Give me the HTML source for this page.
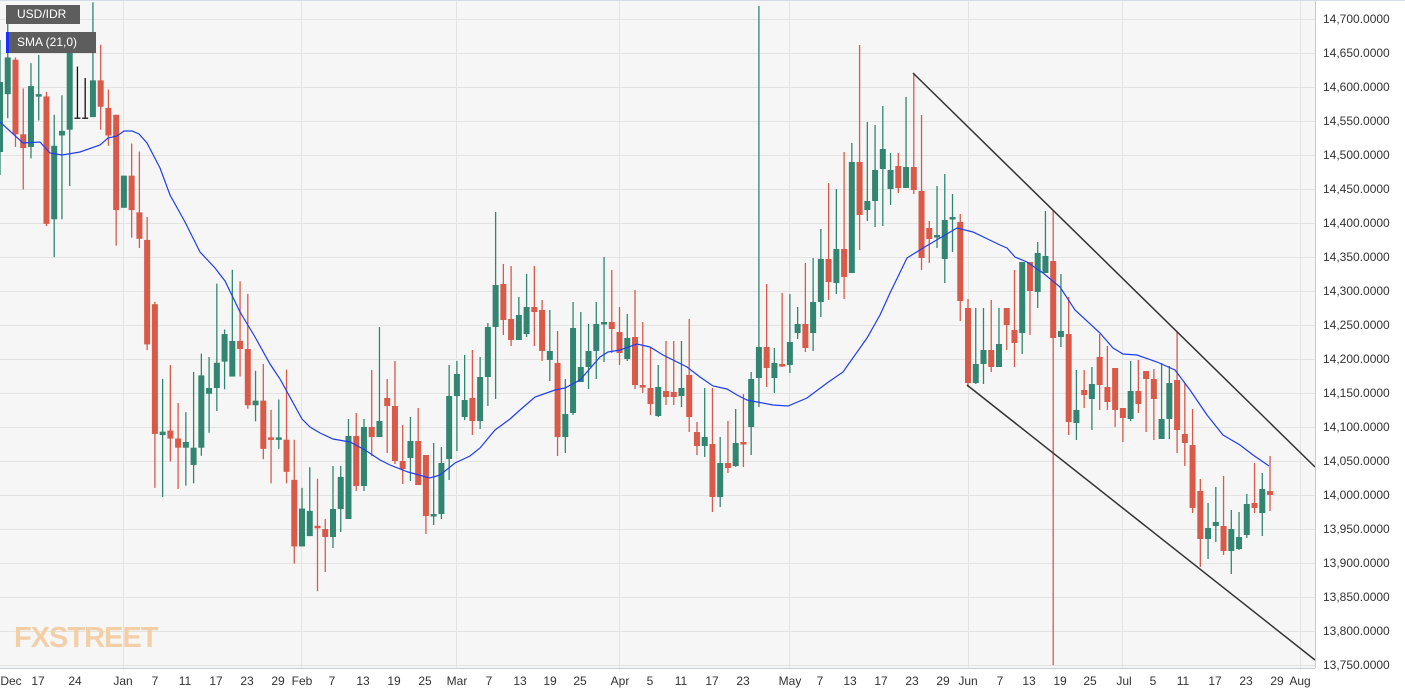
<!DOCTYPE html>
<html><head><meta charset="utf-8"><style>
html,body{margin:0;padding:0;background:#fff;}
#c{position:relative;width:1405px;height:695px;overflow:hidden;font-family:"Liberation Sans",sans-serif;}
svg{position:absolute;left:0;top:0}
.lg{position:absolute;background:#5d5d5d;color:#fff;font-size:12px;line-height:18px;padding-left:11px;}
</style></head><body><div id="c">
<svg id="s" width="1405" height="695" xmlns="http://www.w3.org/2000/svg">
<rect x="0" y="0" width="1315" height="668" fill="#f6f6f6"/>
<g id="grid" stroke="#e3e3e3" stroke-width="1"></g>
<g id="cand"></g>
<polyline id="sma" fill="none" stroke="#1f3df5" stroke-width="1.2"/>
<line x1="913" y1="73" x2="1315" y2="467" stroke="#333" stroke-width="1.5"/>
<line x1="967" y1="385" x2="1315" y2="660" stroke="#333" stroke-width="1.5"/>
<line x1="1315.5" y1="0" x2="1315.5" y2="668" stroke="#c8ccd8"/>
<line x1="0" y1="668.5" x2="1315" y2="668.5" stroke="#c8ccd8"/>
<line x1="0" y1="0.5" x2="1405" y2="0.5" stroke="#d6dbe8"/>
<g font-size="12" fill="#333" font-family="Liberation Sans, sans-serif">
<text x="1323" y="23">14,700.0000</text><text x="1323" y="57">14,650.0000</text><text x="1323" y="91">14,600.0000</text><text x="1323" y="125">14,550.0000</text><text x="1323" y="159">14,500.0000</text><text x="1323" y="193">14,450.0000</text><text x="1323" y="227">14,400.0000</text><text x="1323" y="261">14,350.0000</text><text x="1323" y="295">14,300.0000</text><text x="1323" y="329">14,250.0000</text><text x="1323" y="363">14,200.0000</text><text x="1323" y="397">14,150.0000</text><text x="1323" y="431">14,100.0000</text><text x="1323" y="465">14,050.0000</text><text x="1323" y="499">14,000.0000</text><text x="1323" y="533">13,950.0000</text><text x="1323" y="567">13,900.0000</text><text x="1323" y="601">13,850.0000</text><text x="1323" y="635">13,800.0000</text><text x="1323" y="669">13,750.0000</text>
</g>
<g font-size="12" fill="#333" font-family="Liberation Sans, sans-serif" text-anchor="middle">
<text x="11" y="685">Dec</text><text x="38" y="685">17</text><text x="75" y="685">24</text><text x="123" y="685">Jan</text><text x="155" y="685">7</text><text x="185" y="685">11</text><text x="216" y="685">17</text><text x="247" y="685">23</text><text x="278" y="685">29</text><text x="302" y="685">Feb</text><text x="332" y="685">7</text><text x="363" y="685">13</text><text x="394" y="685">19</text><text x="425" y="685">25</text><text x="457" y="685">Mar</text><text x="489" y="685">7</text><text x="520" y="685">13</text><text x="550" y="685">19</text><text x="580" y="685">25</text><text x="620" y="685">Apr</text><text x="650" y="685">5</text><text x="681" y="685">11</text><text x="712" y="685">17</text><text x="743" y="685">23</text><text x="790" y="685">May</text><text x="820" y="685">7</text><text x="850" y="685">13</text><text x="881" y="685">17</text><text x="912" y="685">23</text><text x="943" y="685">29</text><text x="968" y="685">Jun</text><text x="1000" y="685">7</text><text x="1029" y="685">13</text><text x="1060" y="685">19</text><text x="1090" y="685">25</text><text x="1124" y="685">Jul</text><text x="1153" y="685">5</text><text x="1183" y="685">11</text><text x="1215" y="685">17</text><text x="1246" y="685">23</text><text x="1277" y="685">29</text><text x="1300" y="685">Aug</text>
</g>
<text x="14" y="647" font-size="29" font-weight="bold" fill="#f3cfa8" font-family="Liberation Sans, sans-serif" letter-spacing="-1">FXSTREET</text>
</svg>
<div class="lg" style="left:6px;top:5px;width:63px;height:19px;">USD/IDR</div>
<div class="lg" style="left:6px;top:32px;width:79px;height:21px;line-height:21px;border-left:3px solid #1530ff;padding-left:8px;">SMA (21,0)</div>
</div>
<script>
var NS="http://www.w3.org/2000/svg";
function el(p,t,a){var e=document.createElementNS(NS,t);for(var k in a)e.setAttribute(k,a[k]);p.appendChild(e);return e;}
var g=document.getElementById('grid');
for(var k=0;k<20;k++){var y=19+34*k+0.5;el(g,'line',{x1:0,y1:y,x2:1315,y2:y});}
[123,301,456,619,789,968,1122,1300].forEach(function(x){el(g,'line',{x1:x+0.5,y1:0,x2:x+0.5,y2:668});});
// [wickTop, wickBot, bodyTop, bodyBot, color] ; block A scaled by 1.148
var A=[[40/1.148,175/1.148,82/1.148,152/1.148,'g'],[10,103,50,82,'g'],[50,128,52,117,'r'],[77,165,117,129,'r'],[55,138,75,128,'g'],[48,105,82,84,'g'],[80,197,84,195,'r'],[100,224,127,191,'g'],[83,191,114,118,'g'],[30,162,43,113,'g'],[58,103,102,103,'k'],[68,103,102,103,'k'],[2,102,70,102,'g'],[39,113,70,93,'r'],[78,127,94,118,'r'],[100,214,100,183,'r'],[153,181,153,181,'g'],[125,207,153,183,'r'],[132,216,185,208,'r'],[189,305,209,300,'r'],[263,425,265,378,'r'],[330,433,376,379,'g'],[318,402,375,382,'r'],[351,426,382,390,'r'],[359,423,385,390,'g'],[324,421,390,405,'g'],[308,397,327,390,'g'],[311,377,338,343,'g'],[247,358,316,338,'g'],[287,339,291,315,'g'],[235,328,297,328,'g'],[245,328,297,304,'r'],[256,356,304,353,'r'],[323,367,349,353,'g'],[317,400,349,391,'r'],[357,421,381,383,'r'],[348,391,381,383,'g'],[322,421,383,411,'r'],[383,491,418,476,'r'],[425,476,443,476,'g'],[407,467,445,467,'g'],[417,515,458,460,'r']];
var B=[[519,572,529,537,'r'],[466,548,509,537,'g'],[466,532,477,509,'g'],[419,519,436,519,'g'],[413,491,436,486,'r'],[419,491,427,486,'g'],[370,456,427,437,'r'],[327,437,421,437,'g'],[379,453,398,406,'r'],[361,464,406,461,'r'],[425,484,461,469,'r'],[417,481,441,458,'g'],[408,485,441,485,'r'],[455,534,455,516,'r'],[443,525,514,516,'g'],[447,519,463,514,'g'],[365,480,396,459,'g'],[361,451,374,396,'g'],[355,420,400,417,'g'],[350,435,398,421,'r'],[357,429,377,421,'g'],[323,406,327,377,'g'],[212,399,285,327,'g'],[264,335,284,320,'r'],[266,346,319,340,'r'],[297,340,315,340,'g'],[274,337,307,334,'g'],[266,346,307,312,'r'],[300,361,310,351,'r'],[310,381,351,360,'g'],[331,456,363,437,'r'],[379,453,414,437,'g'],[302,415,328,413,'g'],[312,382,367,382,'g'],[324,389,351,367,'g'],[302,379,324,351,'g'],[257,362,322,324,'g'],[270,353,322,329,'r'],[307,365,332,353,'r'],[314,361,338,359,'g'],[290,389,337,385,'r'],[322,393,385,387,'r'],
[347,415,388,404,'r'],[365,417,387,416,'g'],[341,405,391,397,'r'],[341,405,392,397,'r'],[341,407,388,396,'g'],[319,432,375,417,'r'],[422,455,432,446,'r'],[388,457,437,446,'g'],[388,512,444,497,'r'],[437,507,463,497,'g'],[421,473,463,468,'r'],[409,467,443,466,'g'],[394,467,442,444,'r'],[372,455,379,427,'g'],[6,407,347,378,'g'],[284,387,347,368,'r'],[348,393,363,378,'g'],[293,367,364,366,'r'],[294,373,342,365,'g'],[307,339,324,333,'g'],[263,352,324,348,'r'],[258,351,302,333,'g'],[229,317,259,302,'g'],[183,300,259,282,'r'],[189,294,249,283,'g'],[152,299,249,277,'r'],[143,273,162,273,'g'],[45,250,162,215,'r'],[122,221,201,210,'g'],[125,227,170,201,'g'],[106,226,149,169,'g'],[153,205,170,189,'g'],[153,193,166,188,'r'],[97,188,167,188,'g'],[73,194,167,190,'r'],[115,270,191,258,'r'],[221,263,228,239,'r'],[186,248,235,237,'g'],[174,283,220,259,'g'],[194,252,217,219,'g'],[214,321,222,301,'r'],
[299,387,308,383,'r'],[308,384,364,383,'g'],[308,384,350,364,'g'],[300,372,350,367,'r'],[308,367,344,367,'g'],[308,350,308,325,'r'],[270,367,330,343,'r'],[262,354,262,333,'g'],[262,335,262,291,'r'],[242,308,253,292,'g'],[211,273,256,273,'g'],[211,665,261,338,'r'],[274,347,331,337,'g'],[297,435,334,422,'r'],[370,440,410,423,'g'],[370,408,390,395,'r'],[367,430,384,399,'g'],[334,410,357,385,'r'],[346,410,387,402,'r'],[368,427,368,410,'r'],[408,442,408,418,'r'],[361,421,391,419,'g'],[360,413,391,404,'r'],[371,432,371,379,'r'],[369,440,379,399,'r'],[363,439,419,439,'g'],[366,439,383,419,'g'],[332,453,380,430,'r'],[383,466,434,443,'r'],[409,513,445,508,'r'],[479,567,491,539,'r'],[503,559,528,539,'g'],[487,542,522,526,'g'],[476,555,526,551,'r'],[510,574,529,551,'g'],[512,550,537,549,'g'],[494,538,504,535,'g'],[463,513,503,508,'r'],[473,536,489,513,'g'],[456,511,491,495,'r']];
var cg=document.getElementById('cand');
var col={g:'#328671',r:'#d95a48',k:'#111'};
function draw(d,i,s){var x=i*7.744;var c=col[d[4]];var wt=d[0]*s,wb=d[1]*s,bt=d[2]*s,bb=d[3]*s;
 el(cg,'line',{x1:x,y1:wt,x2:x,y2:wb,stroke:c,'stroke-width':1.3});
 if(d[4]=='k'){el(cg,'line',{x1:x-3,y1:wb,x2:x+3,y2:wb,stroke:'#333','stroke-width':1.5});return;}
 var h=Math.max(bb-bt,2.5);el(cg,'rect',{x:x-3,y:bt,width:6,height:h,fill:c});}
A.forEach(function(d,i){draw(d,i,1.148);});
B.forEach(function(d,i){draw(d,i+42,1);});
var P=[[0,122],[23,143],[40,142],[50,153],[62,155],[80,152],[100,145],[108,138],[117,136],[124,131],[132,131],[139,134],[147,143],[160,168],[170,195],[185,222],[200,252],[215,268],[225,281],[240,312],[255,337],[270,364],[280,379],[302,419],[310,427],[320,433],[333,439],[350,442],[365,450],[380,460],[390,465],[408,472],[430,478],[440,475],[455,463],[470,456],[480,448],[495,430],[510,419],[520,410],[535,397],[555,390],[565,388],[580,380],[600,357],[608,352],[620,350],[637,344],[650,347],[663,355],[687,367],[700,377],[713,386],[727,389],[737,395],[747,400],[773,405],[788,406],[807,398],[827,383],[843,372],[867,338],[880,315],[890,293],[907,258],[923,248],[940,238],[957,228],[973,232],[1000,245],[1007,248],[1015,257],[1027,262],[1043,273],[1060,287],[1075,310],[1100,333],[1113,348],[1123,354],[1137,355],[1157,362],[1175,370],[1190,390],[1207,415],[1223,435],[1240,445],[1253,455],[1269,466]];
document.getElementById('sma').setAttribute('points',P.map(function(p){return p.join(',');}).join(' '));
</script>
</body></html>
